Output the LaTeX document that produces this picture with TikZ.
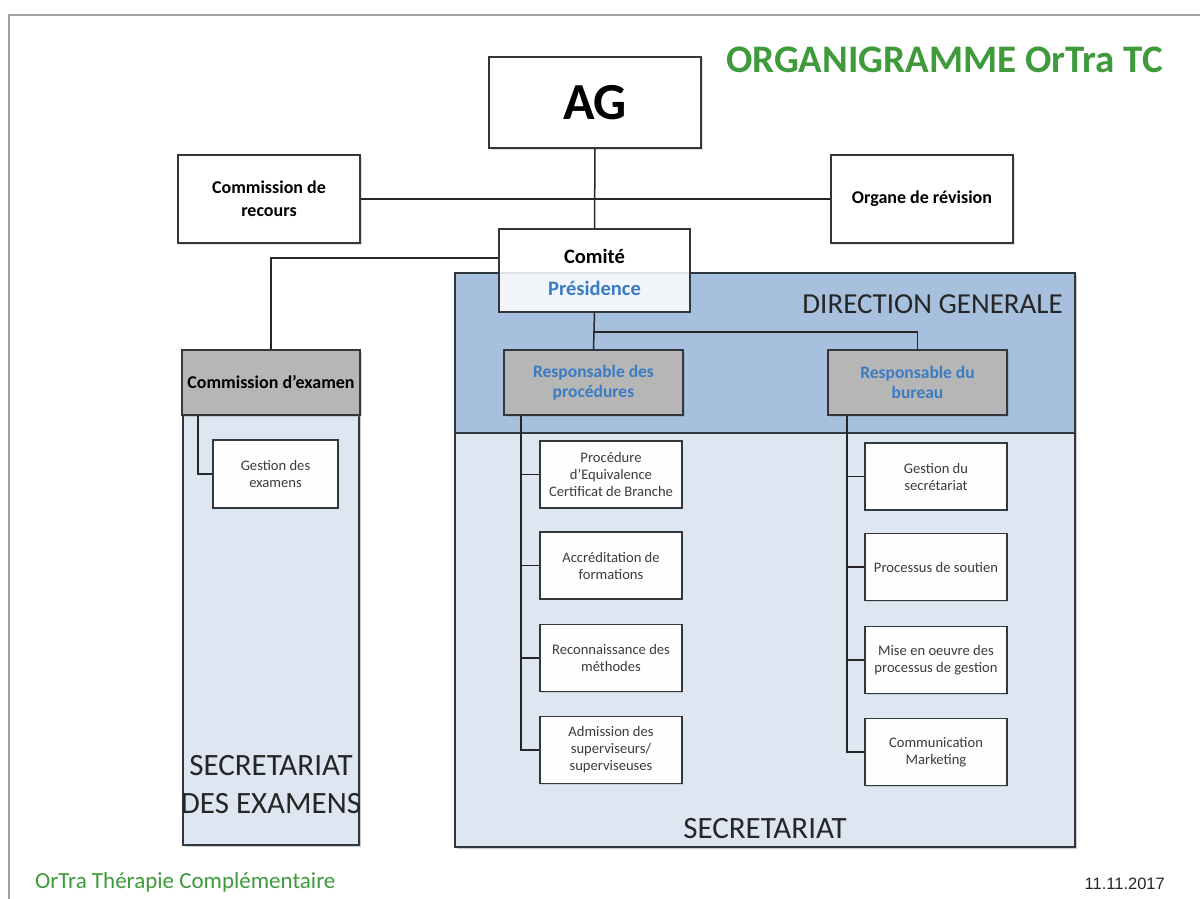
\documentclass[tikz,border=0pt]{standalone}
\usepackage{fontspec}
\setmainfont{Carlito}
\newfontfamily\arialf{Liberation Sans}
\usetikzlibrary{shadows}
\definecolor{dgblue}{RGB}{166,192,222}
\definecolor{seclight}{RGB}{221,230,241}
\definecolor{boxgray}{RGB}{182,182,182}
\definecolor{txtblue}{RGB}{58,124,196}
\definecolor{titlegreen}{RGB}{62,154,58}
\definecolor{framegray}{RGB}{160,160,160}
\definecolor{edgedark}{RGB}{50,55,62}
\definecolor{smalltxt}{RGB}{60,60,60}
\tikzset{
  whitebox/.style={draw=edgedark, line width=1.4pt, fill=white, align=center, inner sep=2pt,
     drop shadow={shadow xshift=1.5pt, shadow yshift=-1.5pt, opacity=0.25}},
  graybox/.style={draw=edgedark, line width=1.4pt, fill=boxgray, align=center, inner sep=2pt,
     drop shadow={shadow xshift=1.5pt, shadow yshift=-1.5pt, opacity=0.3}},
  smallbox/.style={draw=edgedark, line width=1.3pt, fill=white!96!seclight, align=center, inner sep=2pt,
     minimum width=142pt, minimum height=67pt, text=smalltxt,
     font=\fontsize{14.6}{17}\selectfont,
     drop shadow={shadow xshift=1.2pt, shadow yshift=-1.2pt, opacity=0.25}},
  conn/.style={draw=black!85, line width=1.5pt},
  region/.style={draw=edgedark, line width=1.4pt},
  bigtxt/.style={font=\fontsize{31}{38}\selectfont, text=black!85, inner sep=0pt}
}
\begin{document}
\begin{tikzpicture}[x=1pt,y=-1pt]
\useasboundingbox (0,0) rectangle (1200,899);
\fill[white] (0,0) rectangle (1200,899);
% frame
\draw[framegray, line width=2pt] (8.5,899) -- (8.5,15) -- (1200,15);
% regions
\fill[black, opacity=0.2] (457,275) rectangle (1077,849);
\fill[black, opacity=0.2] (185,417) rectangle (361,847);
\fill[seclight] (455,433) rectangle (1075,847);
\fill[dgblue] (455,273) rectangle (1075,433);
\draw[region] (455,433) -- (1075,433);
\draw[region] (455,273) rectangle (1075,847);
\draw[region, fill=seclight] (183,415) rectangle (359,845);

% title
\node[text=titlegreen, font=\fontsize{39}{44}\selectfont\bfseries, anchor=base east, inner sep=0pt] (title) at (1163,73) {ORGANIGRAMME OrTra TC};

% top level
\node[whitebox, minimum width=212pt, minimum height=91pt, font=\fontsize{52}{56}\selectfont\bfseries] (ag) at (595,102.5) {AG};
\node[whitebox, minimum width=182pt, minimum height=88pt, font=\fontsize{18}{23}\selectfont\bfseries] (recours) at (269,199) {Commission de\\recours};
\node[whitebox, minimum width=182pt, minimum height=88pt, font=\fontsize{18}{23}\selectfont\bfseries] (organe) at (922,199) {Organe de révision};
\node[draw=edgedark, line width=1.4pt, fill=white, fill opacity=0.85, text opacity=1, minimum width=191pt, minimum height=83pt, inner sep=0pt] (comite) at (594.5,270.5) {};
\node[font=\fontsize{20.5}{24}\selectfont\bfseries, inner sep=0pt, anchor=base] (comtxt) at (594.5,263) {Comité};
\node[font=\fontsize{20.5}{24}\selectfont\bfseries, text=txtblue, inner sep=0pt, anchor=base] (prestxt) at (594.5,295) {Présidence};

% region labels
\node[bigtxt, font=\fontsize{29}{34}\selectfont, anchor=base east] (dgtxt) at (1063,313) {DIRECTION GENERALE};
\node[bigtxt, anchor=base] (sectxt) at (765,838) {SECRETARIAT};
\node[bigtxt, align=center, anchor=base] (sexa) at (271,813) {SECRETARIAT\\DES EXAMENS};

% gray boxes
\node[graybox, minimum width=178pt, minimum height=65pt, font=\fontsize{18}{21}\selectfont\bfseries] (cexam) at (271,382.5) {Commission d’examen};
\node[graybox, minimum width=179pt, minimum height=65pt, text=txtblue, font=\fontsize{17.5}{20}\selectfont\bfseries] (rproc) at (593.5,382.5) {Responsable des\\procédures};
\node[graybox, minimum width=179pt, minimum height=65pt, text=txtblue, font=\fontsize{17.5}{20}\selectfont\bfseries] (rbur) at (917.5,382.5) {Responsable du\\bureau};

% small boxes
\node[smallbox, minimum width=125pt, minimum height=68pt] (gex) at (275.5,474) {Gestion des\\examens};
\node[smallbox] (p1) at (611,474.5) {Procédure\\d’Equivalence\\Certificat de Branche};
\node[smallbox] (p2) at (611,565.5) {Accréditation de\\formations};
\node[smallbox] (p3) at (611,658) {Reconnaissance des\\méthodes};
\node[smallbox] (p4) at (611,750) {Admission des\\superviseurs/\\superviseuses};
\node[smallbox] (b1) at (936,476.5) {Gestion du\\secrétariat};
\node[smallbox] (b2) at (936,567) {Processus de soutien};
\node[smallbox] (b3) at (936,660) {Mise en oeuvre des\\processus de gestion};
\node[smallbox] (b4) at (936,752) {Communication\\Marketing};

% footer
\node[text=titlegreen, font=\fontsize{23}{27}\selectfont, anchor=base west, inner sep=0pt] (foot) at (35,888) {OrTra Thérapie Complémentaire};
\node[font=\arialf\fontsize{16.5}{19}\selectfont, text=black!85, anchor=base east, inner sep=0pt] (date) at (1165,889) {11.11.2017};

% connectors
\coordinate (k1) at (271,258);
\coordinate (k2) at (917.5,332);
\coordinate (e0) at (198,415);
\coordinate (p0) at (521,415);
\coordinate (b0) at (847,415);
\draw[conn] (ag.south) -- (comite.north);
\draw[conn] (recours.east) -- (organe.west);
\draw[conn] (k1 -| comite.west) -- (k1) -- (cexam.north);
\draw[conn] (comite.south) -- (rproc.north);
\draw[conn] (comite.south) |- (k2) -- (rbur.north);
\draw[conn] (e0) |- (gex.west);
\draw[conn] (p0) |- (p4.west);
\foreach \i in {1,2,3} \draw[conn] (p\i.west -| p0) -- (p\i.west);
\draw[conn] (b0) |- (b4.west);
\foreach \i in {1,2,3} \draw[conn] (b\i.west -| b0) -- (b\i.west);
\end{tikzpicture}
\end{document}
